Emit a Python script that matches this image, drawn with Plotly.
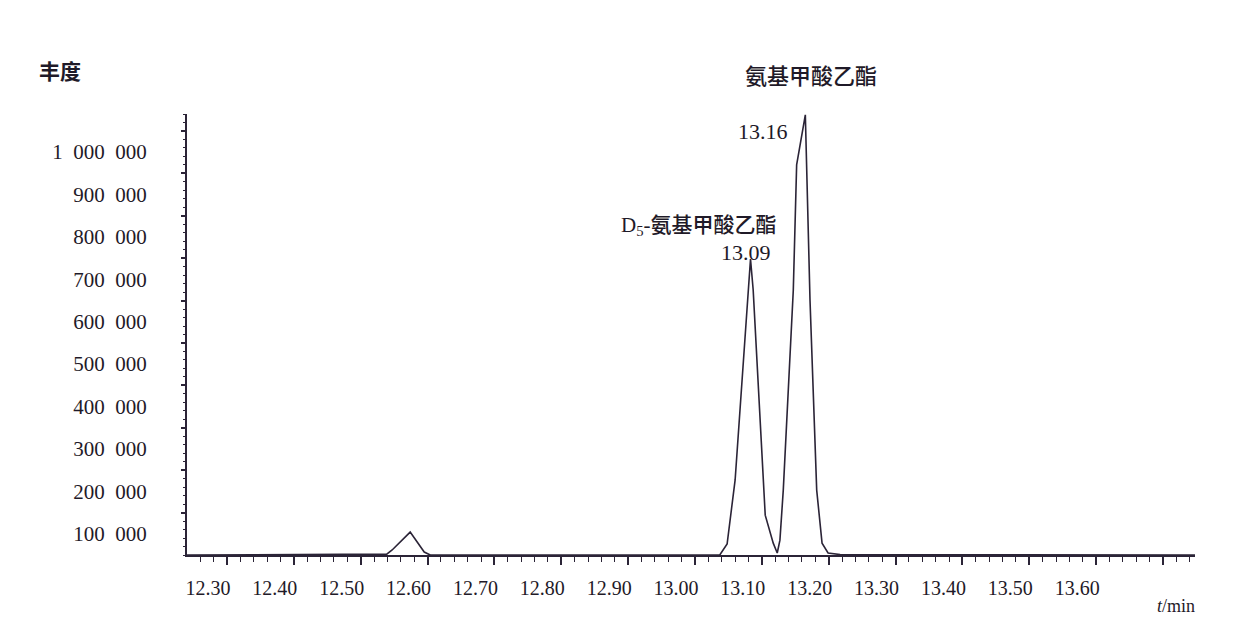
import plotly.graph_objects as go

# Chromatogram trace (retention time in min, abundance)
time_min = [12.240, 12.539, 12.547, 12.574, 12.595, 12.604,
            13.037, 13.048, 13.060, 13.083, 13.087, 13.105, 13.117, 13.123,
            13.127, 13.132, 13.147, 13.152, 13.165, 13.172, 13.182, 13.190,
            13.199, 13.217, 13.750]
abundance = [0, 2000, 11800, 54000, 7000, 0,
             0, 26000, 177000, 698000, 625000, 94000, 28000, 4700,
             35000, 153000, 625000, 920000, 1038000, 601000, 153000, 28000,
             4700, 1000, 0]

# Axis ticks
x_tick_vals = [12.30, 12.40, 12.50, 12.60, 12.70, 12.80, 12.90, 13.00,
               13.10, 13.20, 13.30, 13.40, 13.50, 13.60, 13.70]
x_tick_text = ["12.30", "12.40", "12.50", "12.60", "12.70", "12.80", "12.90",
               "13.00", "13.10", "13.20", "13.30", "13.40", "13.50", "13.60", " "]
y_tick_vals = [100000, 200000, 300000, 400000, 500000,
               600000, 700000, 800000, 900000, 1000000]
y_tick_text = ["100 000", "200 000", "300 000", "400 000", "500 000",
               "600 000", "700 000", "800 000", "900 000", "1 000 000"]

# Peak labels
peak_names = ["D<sub>5</sub>-氨基甲酸乙酯", "氨基甲酸乙酯"]
peak_times = ["13.09", "13.16"]

INK = "#2b2437"
FONT = "Liberation Serif, Noto Sans CJK SC, serif"

fig = go.Figure()
fig.add_trace(go.Scatter(
    x=time_min, y=abundance, mode="lines",
    line=dict(color=INK, width=1.6), hoverinfo="skip", showlegend=False,
))

# page body has an 8px default margin, so the figure is 8px smaller
fig.update_layout(
    width=1240, height=626,
    margin=dict(l=179, r=53, t=106, b=79, autoexpand=False),
    paper_bgcolor="white", plot_bgcolor="white",
    font=dict(family=FONT, color="#1f1a28", size=20),
    showlegend=False,
)

fig.update_xaxes(
    range=[12.2402, 13.7478], showgrid=False, zeroline=False, automargin=False,
    showline=True, linecolor=INK, linewidth=2,
    tickmode="array", tickvals=x_tick_vals,
    ticktext=x_tick_text,
    ticks="outside", ticklen=8, tickwidth=1.6, tickcolor=INK,
    ticklabelshift=-19, ticklabelstandoff=6,
    tickfont=dict(size=20, family=FONT),
    minor=dict(dtick=0.02, tick0=12.30, ticks="outside", ticklen=5,
               tickwidth=1.3, tickcolor=INK, showgrid=False),
)
fig.update_yaxes(
    range=[0, 1040000], showgrid=False, zeroline=False, automargin=False,
    showline=True, linecolor=INK, linewidth=2,
    tickmode="array", tickvals=y_tick_vals,
    ticktext=[t.replace(" ", "\u2002") for t in y_tick_text],
    ticks="outside", ticklen=4, tickwidth=1.6, tickcolor=INK,
    ticklabelshift=21, ticklabelstandoff=30,
    tickfont=dict(size=21, family=FONT),
    minor=dict(dtick=20000, tick0=0, ticks="outside", ticklen=2,
               tickwidth=1.3, tickcolor=INK, showgrid=False),
)

annotations = [
    dict(text="丰度", x=-0.126, y=1.095, xanchor="center", yanchor="middle",
         font=dict(size=21, weight=600)),
    dict(text="<i>t</i>/min", x=1.002, y=-0.1156, xanchor="right", yanchor="middle",
         font=dict(size=18)),
    dict(text=peak_names[1], x=0.619, y=1.086, xanchor="center", yanchor="middle",
         font=dict(size=22, weight=500)),
    dict(text=peak_times[1], x=0.598, y=0.961, xanchor="right", yanchor="middle",
         font=dict(size=22)),
    dict(text=peak_names[0], x=0.508, y=0.746, xanchor="center", yanchor="middle",
         font=dict(size=21, weight=500)),
    dict(text=peak_times[0], x=0.5546, y=0.687, xanchor="center", yanchor="middle",
         font=dict(size=22)),
]
for a in annotations:
    fig.add_annotation(xref="paper", yref="paper", showarrow=False, **a)

fig.write_html("out.html")
